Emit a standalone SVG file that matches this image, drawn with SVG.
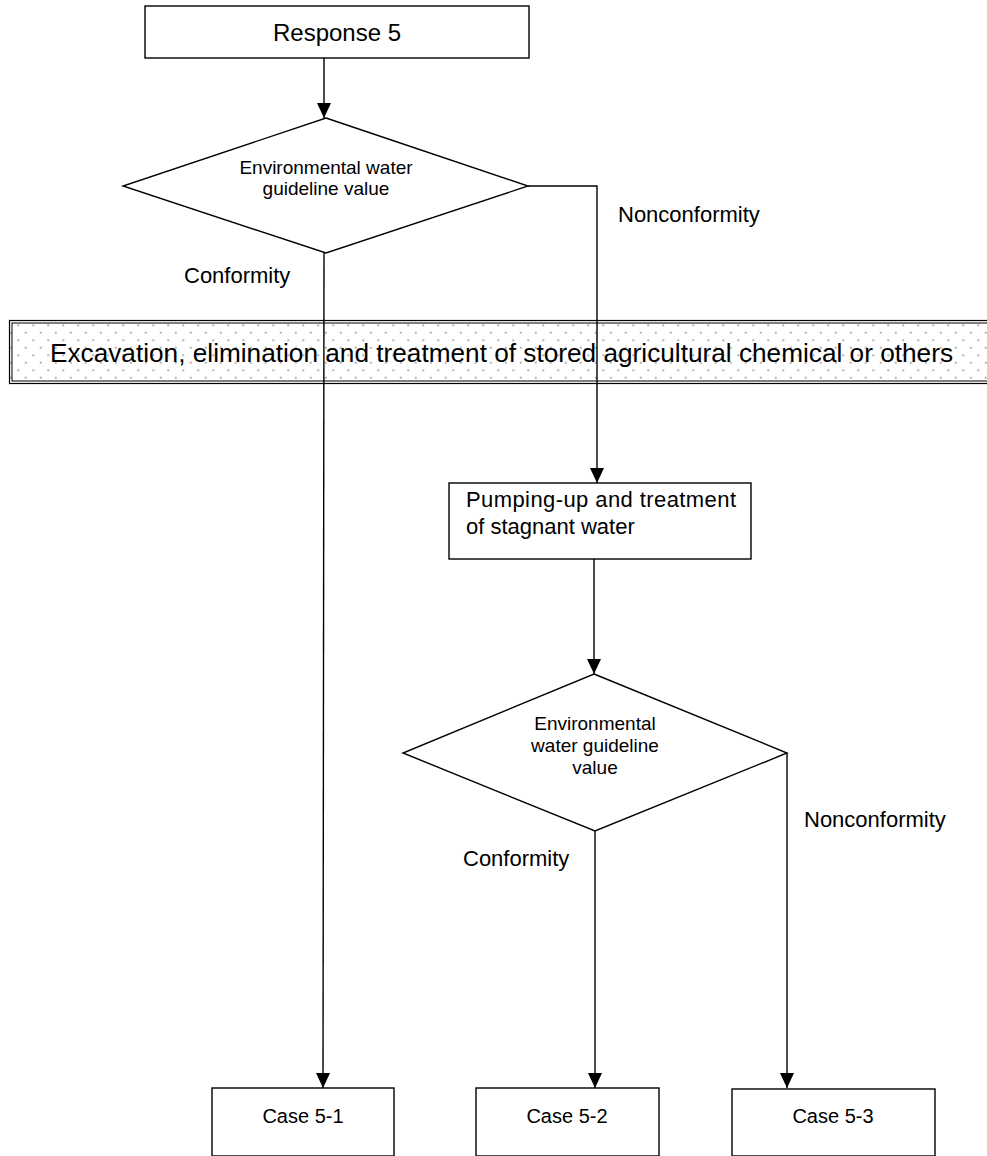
<svg xmlns="http://www.w3.org/2000/svg" width="987" height="1156" viewBox="0 0 987 1156">
  <style>
    .box { fill: #fff; stroke: #000; stroke-width: 1.4; }
    .dia { fill: #fff; stroke: #000; stroke-width: 1.4; }
    .edge { fill: none; stroke: #000; stroke-width: 1.4; }
    .t { font-family: "Liberation Sans", Arial, sans-serif; fill: #000; }
  </style>
  <defs>
    <marker id="arrow" markerUnits="userSpaceOnUse" markerWidth="15" markerHeight="14" refX="15" refY="7" orient="auto">
      <path d="M0,0 L15,7 L0,14 z" fill="#000"/>
    </marker>
    <pattern id="dots" patternUnits="userSpaceOnUse" x="17.5" y="324.5" width="15" height="15">
      <circle cx="0.8" cy="0.8" r="0.7" fill="#333"/>
      <circle cx="8.3" cy="8.3" r="0.7" fill="#333"/>
    </pattern>
  </defs>

  <!-- process band spanning the page -->
  <g id="band">
    <rect x="9.5" y="320.5" width="1000" height="63" fill="url(#dots)" stroke="#000" stroke-width="1.2"/>
    <rect x="12" y="323" width="1000" height="58" fill="none" stroke="#000" stroke-width="1"/>
    <text class="t" x="50" y="362" font-size="26" textLength="903" lengthAdjust="spacingAndGlyphs">Excavation, elimination and treatment of stored agricultural chemical or others</text>
  </g>

  <!-- connectors -->
  <g id="connectors">
    <line class="edge" x1="324" y1="58" x2="324" y2="118" marker-end="url(#arrow)"/>
    <polyline class="edge" points="528,186 597,186 597,483" marker-end="url(#arrow)"/>
    <line class="edge" x1="324" y1="253" x2="323" y2="1088" marker-end="url(#arrow)"/>
    <line class="edge" x1="594" y1="559" x2="594" y2="674" marker-end="url(#arrow)"/>
    <line class="edge" x1="595" y1="831" x2="595" y2="1088" marker-end="url(#arrow)"/>
    <line class="edge" x1="787" y1="753" x2="787" y2="1088" marker-end="url(#arrow)"/>
  </g>

  <g id="response5">
    <rect class="box" x="145" y="6" width="384" height="52"/>
    <text class="t" x="337" y="41" font-size="24" text-anchor="middle">Response 5</text>
  </g>

  <g id="decision1">
    <polygon class="dia" points="326,118 528,186 326,253 123,186"/>
    <text class="t" x="326" y="174" font-size="19" text-anchor="middle">Environmental water</text>
    <text class="t" x="326" y="195" font-size="19" text-anchor="middle">guideline value</text>
  </g>

  <g id="labels1">
    <text class="t" x="618" y="222" font-size="22">Nonconformity</text>
    <text class="t" x="184" y="283" font-size="22">Conformity</text>
  </g>

  <g id="pumping">
    <rect class="box" x="449" y="483" width="302" height="76"/>
    <text class="t" x="466" y="507" font-size="22" textLength="270" lengthAdjust="spacing">Pumping-up and treatment</text>
    <text class="t" x="466" y="534" font-size="22">of stagnant water</text>
  </g>

  <g id="decision2">
    <polygon class="dia" points="594,674 787,753 595,831 403,753"/>
    <text class="t" x="595" y="730" font-size="19" text-anchor="middle">Environmental</text>
    <text class="t" x="595" y="752" font-size="19" text-anchor="middle">water guideline</text>
    <text class="t" x="595" y="774" font-size="19" text-anchor="middle">value</text>
  </g>

  <g id="labels2">
    <text class="t" x="804" y="827" font-size="22">Nonconformity</text>
    <text class="t" x="463" y="866" font-size="22">Conformity</text>
  </g>

  <g id="case51">
    <rect class="box" x="212" y="1088" width="182" height="68"/>
    <text class="t" x="303" y="1123" font-size="20" text-anchor="middle">Case 5-1</text>
  </g>
  <g id="case52">
    <rect class="box" x="476" y="1088" width="183" height="68"/>
    <text class="t" x="567" y="1123" font-size="20" text-anchor="middle">Case 5-2</text>
  </g>
  <g id="case53">
    <rect class="box" x="732" y="1089" width="203" height="67"/>
    <text class="t" x="833" y="1123" font-size="20" text-anchor="middle">Case 5-3</text>
  </g>
</svg>
